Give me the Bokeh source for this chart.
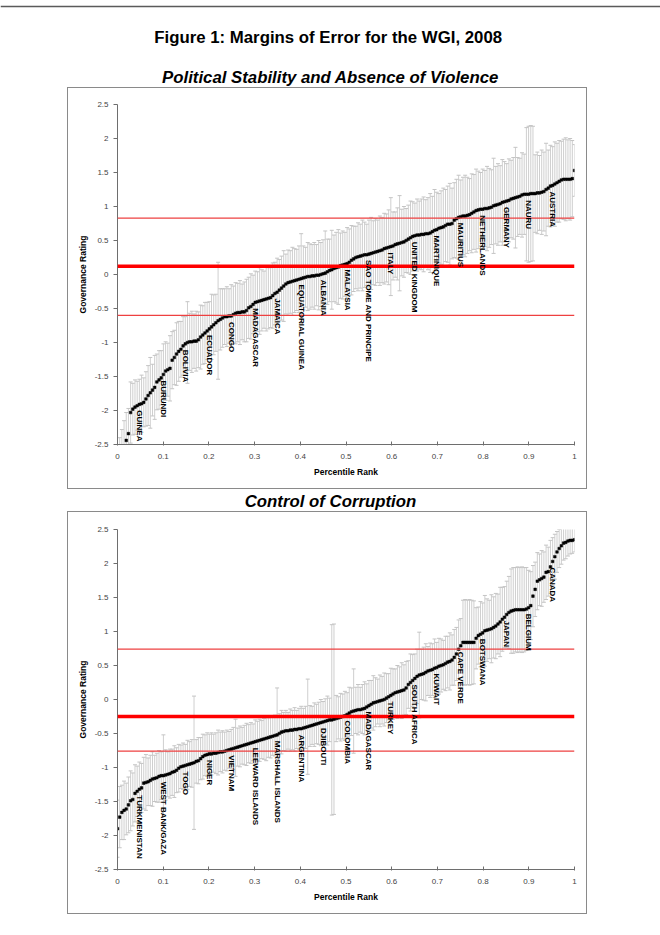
import math
import numpy as np
from bokeh.plotting import figure
from bokeh.models import Range1d, FixedTicker, ColumnDataSource, Span, Spacer, LabelSet
from bokeh.layouts import column, row
from bokeh.core.properties import value
from bokeh.embed import file_html
from bokeh.resources import INLINE

FONT = "Liberation Sans"

# ---------------- data ----------------
title_main = "Figure 1:  Margins of Error for the WGI, 2008"
title_pv = "Political Stability and Absence of Violence"
title_cc = "Control of Corruption"

x_ticks = [0, 0.1, 0.2, 0.3, 0.4, 0.5, 0.6, 0.7, 0.8, 0.9, 1]
x_tick_labels = ["0", "0.1", "0.2", "0.3", "0.4", "0.5", "0.6", "0.7", "0.8", "0.9", "1"]
y_ticks = [-2.5, -2, -1.5, -1, -0.5, 0, 0.5, 1, 1.5, 2, 2.5]
y_tick_labels = ["-2.5", "-2", "-1.5", "-1", "-0.5", "0", "0.5", "1", "1.5", "2", "2.5"]

# Political Stability: point estimates (sorted) and 90% margin half-widths
pv_estimate = [
    -3.10, -2.82, -2.66, -2.55, -2.44, -2.34, -2.03, -1.98, -1.95, -1.93,
    -1.91, -1.90, -1.88, -1.83, -1.78, -1.74, -1.70, -1.66, -1.58, -1.55,
    -1.52, -1.47, -1.42, -1.40, -1.38, -1.26, -1.22, -1.17, -1.13, -1.10,
    -1.05, -1.02, -1.00, -0.99, -0.99, -0.98, -0.98, -0.96, -0.92, -0.89,
    -0.86, -0.83, -0.80, -0.77, -0.74, -0.71, -0.68, -0.66, -0.64, -0.62,
    -0.62, -0.61, -0.61, -0.59, -0.57, -0.56, -0.56, -0.55, -0.55, -0.53,
    -0.49, -0.47, -0.44, -0.41, -0.40, -0.39, -0.38, -0.37, -0.36, -0.35,
    -0.34, -0.31, -0.28, -0.26, -0.23, -0.20, -0.17, -0.14, -0.12, -0.11,
    -0.10, -0.09, -0.08, -0.07, -0.06, -0.05, -0.04, -0.03, -0.03, -0.02,
    -0.02, -0.01, -0.01, 0.00, 0.01, 0.02, 0.04, 0.06, 0.07, 0.09,
    0.10, 0.11, 0.13, 0.14, 0.15, 0.16, 0.18, 0.21, 0.23, 0.25,
    0.26, 0.27, 0.28, 0.29, 0.29, 0.30, 0.31, 0.32, 0.33, 0.34,
    0.35, 0.36, 0.38, 0.39, 0.40, 0.41, 0.42, 0.44, 0.45, 0.46,
    0.47, 0.48, 0.50, 0.52, 0.54, 0.56, 0.57, 0.58, 0.58, 0.59,
    0.59, 0.60, 0.60, 0.61, 0.63, 0.65, 0.66, 0.68, 0.69, 0.70,
    0.72, 0.74, 0.74, 0.75, 0.80, 0.82, 0.84, 0.85, 0.86, 0.86,
    0.87, 0.88, 0.90, 0.92, 0.94, 0.95, 0.96, 0.96, 0.97, 0.97,
    0.98, 0.99, 1.01, 1.02, 1.03, 1.04, 1.06, 1.07, 1.08, 1.09,
    1.11, 1.12, 1.13, 1.14, 1.15, 1.17, 1.18, 1.18, 1.18, 1.19,
    1.19, 1.19, 1.20, 1.20, 1.21, 1.22, 1.25, 1.27, 1.30, 1.31,
    1.33, 1.35, 1.37, 1.39, 1.40, 1.40, 1.40, 1.40, 1.41, 1.53,
]
pv_margin = [
    0.40, 0.42, 0.38, 0.40, 0.41, 0.37, 0.45, 0.38, 0.40, 0.36,
    0.37, 0.42, 0.36, 0.40, 0.44, 0.52, 0.38, 0.47, 0.41, 0.43,
    0.40, 0.45, 0.43, 0.39, 0.48, 0.42, 0.40, 0.46, 0.44, 0.41,
    0.43, 0.40, 0.60, 0.42, 0.45, 0.40, 0.44, 0.41, 0.47, 0.43,
    0.45, 0.42, 0.40, 0.48, 0.44, 0.42, 0.86, 0.45, 0.43, 0.41,
    0.44, 0.40, 0.46, 0.42, 0.45, 0.43, 0.47, 0.41, 0.44, 0.46,
    0.45, 0.48, 0.43, 0.46, 0.44, 0.49, 0.45, 0.42, 0.47, 0.45,
    0.44, 0.48, 0.46, 0.50, 0.45, 0.47, 0.52, 0.44, 0.48, 0.46,
    0.50, 0.47, 0.45, 0.49, 0.66, 0.47, 0.44, 0.50, 0.48, 0.46,
    0.49, 0.45, 0.51, 0.47, 0.50, 0.62, 0.48, 0.46, 0.58, 0.49,
    0.52, 0.55, 0.48, 0.50, 0.47, 0.53, 0.49, 0.51, 0.48, 0.46,
    0.50, 0.47, 0.52, 0.48, 0.45, 0.50, 0.53, 0.47, 0.49, 0.46,
    0.51, 0.48, 0.52, 0.50, 0.55, 0.72, 0.50, 0.48, 0.53, 0.70,
    0.49, 0.52, 0.47, 0.50, 0.54, 0.51, 0.48, 0.53, 0.50, 0.52,
    0.55, 0.50, 0.53, 0.58, 0.52, 0.60, 0.55, 0.51, 0.54, 0.57,
    0.53, 0.56, 0.60, 0.52, 0.55, 0.58, 0.62, 0.54, 0.57, 0.60,
    0.56, 0.53, 0.58, 0.55, 0.61, 0.57, 0.54, 0.59, 0.56, 0.62,
    0.58, 0.55, 0.70, 0.57, 0.60, 0.56, 0.63, 0.59, 0.55, 0.61,
    0.57, 0.60, 0.74, 0.58, 0.56, 0.62, 0.59, 0.98, 1.00, 1.00,
    0.99, 0.57, 0.60, 0.55, 0.62, 0.58, 0.68, 0.56, 0.60, 0.57,
    0.62, 0.58, 0.60, 0.57, 0.59, 0.61, 0.58, 0.60, 0.56, 0.38,
]
pv_ref_lines = [0.83, -0.60]
pv_mid_line = 0.12
pv_label_ranks = [0.05, 0.10, 0.15, 0.20, 0.25, 0.30, 0.35, 0.40, 0.45, 0.50,
                  0.55, 0.60, 0.65, 0.70, 0.75, 0.80, 0.85, 0.90, 0.95]
pv_label_names = ["GUINEA", "BURUNDI", "BOLIVIA", "ECUADOR", "CONGO", "MADAGASCAR",
                  "JAMAICA", "EQUATORIAL GUINEA", "ALBANIA", "MALAYSIA",
                  "SAO TOME AND PRINCIPE", "ITALY", "UNITED KINGDOM", "MARTINIQUE",
                  "MAURITIUS", "NETHERLANDS", "GERMANY", "NAURU", "AUSTRIA"]

# Control of Corruption
cc_estimate = [
    -1.90, -1.73, -1.66, -1.63, -1.61, -1.55, -1.49, -1.47, -1.38, -1.35,
    -1.32, -1.30, -1.23, -1.22, -1.21, -1.19, -1.17, -1.16, -1.15, -1.13,
    -1.12, -1.12, -1.11, -1.10, -1.09, -1.07, -1.06, -1.04, -1.01, -0.99,
    -0.98, -0.97, -0.96, -0.95, -0.94, -0.93, -0.91, -0.90, -0.87, -0.84,
    -0.82, -0.81, -0.80, -0.80, -0.79, -0.79, -0.78, -0.77, -0.77, -0.76,
    -0.75, -0.74, -0.73, -0.72, -0.71, -0.70, -0.69, -0.68, -0.67, -0.66,
    -0.65, -0.64, -0.63, -0.62, -0.61, -0.60, -0.59, -0.58, -0.57, -0.56,
    -0.55, -0.54, -0.53, -0.52, -0.50, -0.48, -0.47, -0.46, -0.46, -0.45,
    -0.45, -0.44, -0.44, -0.43, -0.43, -0.42, -0.41, -0.40, -0.39, -0.38,
    -0.37, -0.36, -0.35, -0.34, -0.33, -0.32, -0.31, -0.30, -0.30, -0.29,
    -0.28, -0.27, -0.26, -0.25, -0.24, -0.22, -0.20, -0.18, -0.17, -0.16,
    -0.15, -0.15, -0.14, -0.13, -0.11, -0.09, -0.07, -0.05, -0.04, -0.03,
    -0.02, -0.01, 0.00, 0.02, 0.04, 0.06, 0.08, 0.10, 0.11, 0.12,
    0.13, 0.14, 0.17, 0.22, 0.25, 0.28, 0.31, 0.34, 0.36, 0.37,
    0.38, 0.40, 0.42, 0.43, 0.44, 0.46, 0.47, 0.49, 0.50, 0.51,
    0.53, 0.55, 0.56, 0.58, 0.62, 0.67, 0.74, 0.79, 0.84, 0.84,
    0.84, 0.84, 0.84, 0.84, 0.90, 0.94, 0.96, 0.98, 1.01, 1.02,
    1.03, 1.04, 1.06, 1.08, 1.11, 1.14, 1.18, 1.21, 1.25, 1.28,
    1.30, 1.31, 1.32, 1.32, 1.32, 1.32, 1.32, 1.33, 1.35, 1.38,
    1.52, 1.62, 1.74, 1.76, 1.78, 1.80, 1.87, 1.88, 1.95, 2.03,
    2.10, 2.17, 2.22, 2.26, 2.30, 2.31, 2.33, 2.34, 2.34, 2.35,
]
cc_margin = [
    0.42, 0.45, 0.40, 0.43, 0.38, 0.41, 0.44, 0.39, 0.42, 0.37,
    0.40, 0.36, 0.38, 0.41, 0.35, 0.37, 0.40, 0.34, 0.36, 0.38,
    0.35, 0.60, 0.37, 0.33, 0.36, 0.34, 0.38, 0.33, 0.35, 0.32,
    0.34, 0.31, 0.36, 0.33, 0.35, 0.98, 0.32, 0.34, 0.31, 0.33,
    0.30, 0.32, 0.29, 0.31, 0.28, 0.30, 0.33, 0.29, 0.31, 0.28,
    0.30, 0.27, 0.29, 0.31, 0.42, 0.28, 0.30, 0.27, 0.29, 0.31,
    0.28, 0.30, 0.27, 0.32, 0.29, 0.31, 0.28, 0.30, 0.33, 0.29,
    0.31, 0.28, 0.30, 0.69, 0.29, 0.32, 0.28, 0.30, 0.27, 0.31,
    0.29, 0.32, 0.28, 0.30, 0.33, 0.29, 0.31, 0.70, 0.30, 0.28,
    0.32, 0.29, 0.31, 0.34, 0.30, 0.33, 0.36, 0.32, 1.40, 1.40,
    0.34, 0.31, 0.35, 0.33, 0.36, 0.32, 0.38, 0.35, 0.62, 0.34,
    0.37, 0.33, 0.36, 0.39, 0.34, 0.37, 0.35, 0.40, 0.36, 0.33,
    0.38, 0.35, 0.39, 0.36, 0.34, 0.40, 0.37, 0.35, 0.39, 0.36,
    0.41, 0.37, 0.39, 0.35, 0.42, 0.38, 0.36, 0.40, 0.63, 0.37,
    0.39, 0.42, 0.36, 0.40, 0.38, 0.43, 0.37, 0.41, 0.39, 0.36,
    0.40, 0.38, 0.42, 0.37, 0.41, 0.39, 0.43, 0.40, 0.62, 0.63,
    0.62, 0.63, 0.62, 0.61, 0.45, 0.42, 0.48, 0.44, 0.52, 0.46,
    0.43, 0.50, 0.45, 0.48, 0.44, 0.51, 0.47, 0.45, 0.49, 0.53,
    0.62, 0.63, 0.62, 0.63, 0.62, 0.63, 0.62, 0.61, 0.55, 0.50,
    0.45, 0.40, 0.42, 0.38, 0.41, 0.37, 0.40, 0.36, 0.39, 0.35,
    0.33, 0.30, 0.28, 0.27, 0.25, 0.24, 0.22, 0.20, 0.19, 0.18,
]
cc_ref_lines = [0.74, -0.76]
cc_mid_line = -0.25
cc_label_ranks = [0.05, 0.10, 0.15, 0.20, 0.25, 0.30, 0.35, 0.40, 0.45, 0.50,
                  0.55, 0.60, 0.65, 0.70, 0.75, 0.80, 0.85, 0.90, 0.95]
cc_label_names = ["TURKMENISTAN", "WEST BANK/GAZA", "TOGO", "NIGER", "VIETNAM",
                  "LEEWARD ISLANDS", "MARSHALL ISLANDS", "ARGENTINA", "DJIBOUTI",
                  "COLOMBIA", "MADAGASCAR", "TURKEY", "SOUTH AFRICA", "KUWAIT",
                  "CAPE VERDE", "BOTSWANA", "JAPAN", "BELGIUM", "CANADA"]


def text_fig(width, height, items, line_y=None):
    f = figure(width=width, height=height, x_range=Range1d(0, width),
               y_range=Range1d(height, 0), output_backend="svg",
               toolbar_location=None, x_axis_type=None, y_axis_type=None,
               min_border=0, outline_line_color=None)
    f.xgrid.visible = False
    f.ygrid.visible = False
    for (tx, ty, txt, style) in items:
        f.text(x=[tx], y=[ty], text=[txt], text_font=value(FONT),
               text_font_size="16.8px", text_font_style=style,
               text_align="center", text_baseline="middle", text_color="#000000")
    if line_y is not None:
        f.add_layout(Span(location=line_y, dimension="width",
                          line_color="#5a5a5a", line_width=1.5))
    return f


def panel(est, err, ref_lines, mid_line, lab_ranks, lab_names, height, top):
    # the panel lives inside a 1px bordered wrapper: inner size = outer - 2
    n = len(est)
    order = np.argsort(np.array(est), kind="stable")
    rank = np.empty(n)
    rank[order] = np.arange(n) / (n - 1)
    est_a = np.array(est)
    err_a = np.array(err)
    src = ColumnDataSource(dict(x=rank, y=est_a, lo=est_a - err_a, hi=est_a + err_a))

    inner_h = height - 2
    p = figure(width=518, height=inner_h, x_range=Range1d(0, 1),
               y_range=Range1d(-2.5, 2.5), output_backend="svg",
               toolbar_location=None, min_border_left=49, min_border_right=12,
               min_border_top=top - 1, min_border_bottom=inner_h - (top - 1) - 340,
               outline_line_color=None, background_fill_color="white",
               border_fill_color="white")
    p.xgrid.visible = False
    p.ygrid.visible = False

    p.segment(x0="x", y0="lo", x1="x", y1="hi", source=src,
              line_color="#cfcfcf", line_width=1)
    p.scatter(x="x", y="hi", source=src, marker="dash", size=4,
              line_color="#c4c4c4", line_width=1)
    p.scatter(x="x", y="lo", source=src, marker="dash", size=4,
              line_color="#c4c4c4", line_width=1)

    p.scatter(x="x", y="y", source=src, marker="square", size=2.6,
              fill_color="#000000", line_color="#000000", line_width=0.5)

    for yl in ref_lines:
        p.add_layout(Span(location=yl, dimension="width",
                          line_color="#ee4040", line_width=1.2))
    p.add_layout(Span(location=mid_line, dimension="width",
                      line_color="#ff0000", line_width=3.5))

    lx, ly = [], []
    for r in lab_ranks:
        idx = int(np.argmin(np.abs(rank - r)))
        lx.append(rank[idx])
        ly.append(est_a[idx])
    lab_src = ColumnDataSource(dict(x=lx, y=ly, name=lab_names))
    p.add_layout(LabelSet(x="x", y="y", text="name", source=lab_src,
                          angle=-math.pi / 2, angle_units="rad", y_offset=-6,
                          text_align="left", text_baseline="middle",
                          text_font=value(FONT), text_font_style="bold",
                          text_font_size="8px", text_color="#000000"))

    p.xaxis.ticker = FixedTicker(ticks=x_ticks)
    p.yaxis.ticker = FixedTicker(ticks=y_ticks)
    p.xaxis.major_label_overrides = dict(zip(x_ticks, x_tick_labels))
    p.yaxis.major_label_overrides = dict(zip(y_ticks, y_tick_labels))
    for ax in (p.xaxis[0], p.yaxis[0]):
        ax.axis_line_color = "#6e6e6e"
        ax.major_tick_line_color = "#6e6e6e"
        ax.minor_tick_line_color = None
        ax.major_label_text_font = FONT
        ax.major_label_text_font_size = "8px"
        ax.major_label_text_color = "#444444"
        ax.axis_label_text_font = FONT
        ax.axis_label_text_font_style = "bold"
        ax.axis_label_text_font_size = "8.5px"
        ax.axis_label_text_color = "#000000"
    p.xaxis.major_tick_in = 3
    p.xaxis.major_tick_out = 1
    p.xaxis.major_label_standoff = 8
    p.xaxis.axis_label = "Percentile Rank"
    p.xaxis.axis_label_standoff = 5
    p.yaxis.major_tick_in = 0
    p.yaxis.major_tick_out = 4
    p.yaxis.major_label_standoff = 5
    p.yaxis.axis_label = "Governance Rating"
    p.yaxis.axis_label_standoff = 4

    box = column(p, width=520, height=height,
                 styles={"border": "1px solid #8a8a8a", "box-sizing": "border-box",
                         "background-color": "white"})
    return box


header = text_fig(660, 87, [(330, 37, title_main, "bold"),
                            (330, 77, title_pv, "bold italic")], line_y=6)
b1 = panel(pv_estimate, pv_margin, pv_ref_lines, pv_mid_line,
           pv_label_ranks, pv_label_names, 402, 17)
mid = text_fig(660, 22, [(330, 12, title_cc, "bold italic")])
b2 = panel(cc_estimate, cc_margin, cc_ref_lines, cc_mid_line,
           cc_label_ranks, cc_label_names, 403, 18)

layout = column(header,
                row(Spacer(width=67, height=402), b1),
                mid,
                row(Spacer(width=67, height=403), b2))

open("out.html", "w").write(file_html(layout, INLINE))
